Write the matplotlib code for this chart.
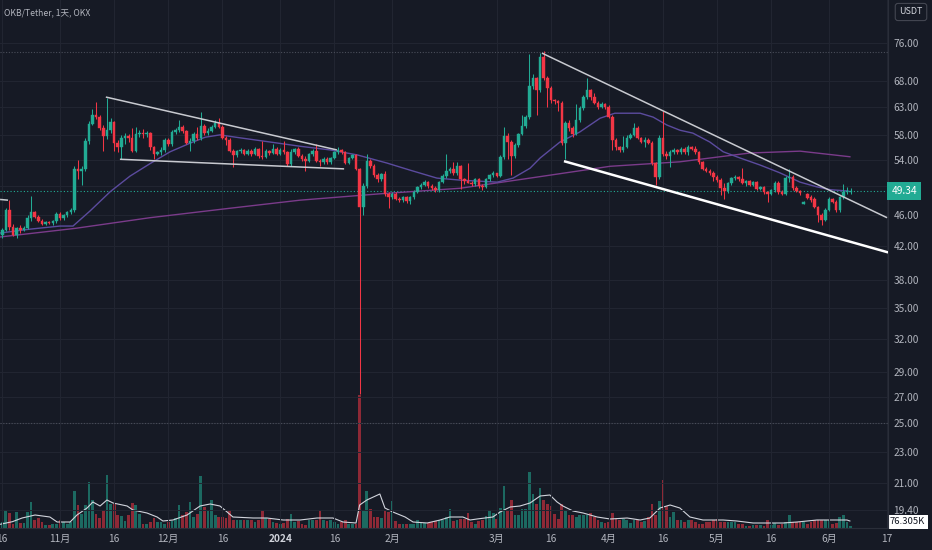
import numpy as np
import pandas as pd
import matplotlib
matplotlib.use('Agg')
import matplotlib.pyplot as plt
import matplotlib.dates as mdates
from matplotlib.ticker import NullLocator, NullFormatter

plt.rcParams['font.family'] = ['Noto Sans CJK SC', 'DejaVu Sans']

# OKB/USDT daily candles (OKX), first day 2023-10-16
start_date = '2023-10-16'

opens = [
    43.4, 44.0, 46.6, 44.4, 43.4, 44.2, 44.0, 44.3, 45.6, 46.3,
    45.7, 45.2, 44.8, 45.0, 44.9, 45.1, 46.1, 45.5, 45.9, 46.4,
    46.6, 52.6, 52.3, 52.6, 57.0, 60.0, 61.5, 61.2, 59.3, 57.9,
    59.0, 60.3, 56.8, 56.0, 57.6, 57.9, 57.5, 55.5, 58.3, 58.5,
    58.2, 58.4, 56.0, 55.0, 55.3, 55.6, 57.2, 56.5, 58.6, 58.9,
    59.4, 58.7, 56.8, 57.0, 58.3, 57.5, 59.6, 58.4, 58.8, 59.4,
    60.2, 59.4, 57.6, 57.2, 55.5, 54.8, 55.4, 55.6, 55.0, 55.5,
    54.9, 55.7, 54.6, 54.5, 55.4, 55.1, 55.8, 55.0, 55.6, 55.2,
    53.3, 55.3, 55.7, 54.6, 54.1, 53.8, 54.9, 55.5, 53.9, 53.6,
    54.2, 53.6, 54.3, 55.2, 55.6, 55.2, 53.5, 54.3, 54.7, 52.6,
    47.0, 50.1, 53.8, 53.0, 51.6, 51.0, 51.8, 48.9, 48.5, 48.9,
    48.2, 48.0, 48.4, 47.9, 48.4, 49.2, 49.9, 50.2, 50.6, 50.0,
    49.8, 49.4, 50.6, 51.5, 52.3, 52.6, 51.9, 53.0, 51.0, 50.7,
    50.5, 50.3, 51.0, 50.1, 49.9, 51.0, 51.6, 51.9, 51.5, 54.4,
    57.9, 56.9, 54.6, 56.4, 58.2, 59.6, 61.2, 67.0, 68.6, 66.2,
    72.9, 68.7, 66.7, 64.4, 64.1, 63.8, 56.8, 60.2, 59.2, 58.2,
    60.6, 62.8, 64.9, 66.3, 64.9, 63.8, 63.0, 63.5, 63.0, 61.3,
    57.3, 56.0, 55.6, 56.0, 57.6, 58.1, 59.3, 57.6, 56.9, 57.3,
    56.8, 53.5, 51.3, 57.6, 55.0, 54.6, 55.3, 55.6, 55.2, 55.8,
    55.3, 56.1, 55.8, 55.2, 53.6, 52.6, 52.3, 51.9, 51.3, 50.9,
    49.8, 49.3, 50.4, 51.2, 51.3, 51.1, 50.5, 50.7, 50.2, 50.6,
    49.6, 49.9, 49.1, 48.9, 49.4, 50.5, 49.1, 48.9, 51.2, 51.4,
    49.7, 49.3, 47.5, 48.9, 48.5, 48.2, 47.0, 45.9, 45.3, 46.7,
    48.1, 47.8, 46.6, 48.4, 49.2, 49.1,
]
highs = [
    44.2, 46.9, 48.0, 44.8, 44.4, 44.6, 44.5, 45.9, 48.6, 46.5,
    46.0, 45.4, 45.1, 45.2, 45.3, 46.3, 46.3, 46.1, 46.5, 46.9,
    53.0, 54.0, 53.0, 57.5, 60.5, 62.7, 64.0, 61.5, 59.8, 64.8,
    61.0, 60.5, 57.2, 58.0, 58.5, 58.3, 59.3, 59.4, 59.0, 59.1,
    58.8, 58.6, 56.2, 55.5, 56.0, 57.5, 57.5, 58.9, 59.3, 60.7,
    59.8, 58.9, 57.6, 58.6, 59.5, 62.2, 59.9, 59.2, 59.8, 60.6,
    61.0, 59.8, 57.9, 57.6, 55.7, 55.6, 55.9, 55.8, 55.8, 55.7,
    56.0, 55.9, 57.0, 55.7, 55.6, 56.6, 56.0, 55.9, 57.0, 55.4,
    55.7, 55.9, 56.0, 54.9, 54.6, 55.1, 55.8, 56.6, 54.2, 54.4,
    54.4, 54.5, 55.4, 56.0, 55.8, 55.4, 54.5, 54.9, 54.9, 52.8,
    50.5, 54.9, 54.2, 53.3, 51.9, 52.0, 52.3, 49.2, 49.2, 49.1,
    48.5, 48.6, 48.6, 48.6, 49.4, 50.1, 50.4, 50.9, 50.8, 50.3,
    50.0, 50.8, 51.8, 54.9, 52.9, 53.7, 53.7, 53.2, 51.2, 53.5,
    50.7, 51.2, 51.2, 50.3, 51.2, 51.8, 52.2, 52.0, 54.7, 59.5,
    58.4, 57.2, 56.8, 58.5, 61.6, 61.6, 73.6, 69.5, 68.9, 73.8,
    74.2, 69.0, 67.1, 64.6, 64.3, 64.2, 60.5, 60.6, 59.6, 63.6,
    63.2, 65.3, 68.6, 66.5, 65.6, 64.2, 63.9, 63.7, 63.4, 61.5,
    57.5, 56.3, 57.9, 58.0, 58.4, 60.2, 59.6, 57.8, 57.7, 57.5,
    57.0, 53.7, 58.0, 62.3, 55.4, 55.6, 55.9, 55.8, 56.0, 56.0,
    56.4, 56.3, 56.2, 55.4, 53.8, 52.9, 52.6, 52.2, 51.6, 51.2,
    50.4, 50.6, 51.4, 51.6, 51.5, 52.8, 50.9, 50.9, 50.8, 50.8,
    50.1, 50.0, 49.3, 49.6, 50.8, 50.7, 49.4, 51.5, 52.6, 51.6,
    50.0, 49.5, 47.9, 49.0, 48.7, 48.4, 47.2, 46.2, 46.9, 48.4,
    48.3, 48.0, 48.6, 50.3, 49.9, 49.8,
]
lows = [
    43.0, 43.8, 44.0, 43.2, 43.0, 43.6, 43.8, 44.1, 45.2, 45.5,
    45.0, 44.6, 44.6, 44.8, 44.7, 44.9, 45.3, 45.3, 45.7, 46.1,
    46.3, 51.0, 50.2, 52.3, 56.5, 59.8, 60.8, 59.0, 55.4, 57.4,
    58.5, 55.5, 55.2, 54.2, 56.6, 56.9, 55.2, 55.2, 57.8, 57.5,
    57.8, 55.6, 54.1, 54.7, 54.8, 55.3, 56.2, 56.3, 58.2, 58.6,
    58.4, 56.5, 55.5, 56.8, 57.3, 57.2, 58.0, 58.1, 58.6, 59.2,
    59.2, 57.4, 56.4, 55.2, 52.9, 54.5, 55.1, 54.7, 54.8, 54.6,
    54.7, 54.3, 54.2, 54.3, 54.7, 54.9, 54.8, 54.8, 55.0, 53.0,
    53.1, 55.0, 54.4, 53.9, 52.3, 53.6, 54.6, 53.7, 53.0, 53.4,
    53.4, 53.4, 54.1, 55.0, 55.0, 53.3, 53.3, 54.1, 52.4, 27.2,
    46.0, 49.8, 52.7, 51.4, 50.6, 50.8, 48.6, 46.9, 48.2, 48.0,
    47.7, 47.8, 47.6, 47.4, 48.2, 49.0, 49.6, 50.0, 49.8, 49.5,
    49.1, 49.2, 50.4, 51.2, 51.9, 51.7, 51.7, 49.6, 50.3, 50.4,
    50.0, 50.1, 49.8, 49.4, 49.7, 50.8, 51.4, 51.3, 51.3, 54.2,
    54.2, 51.7, 54.3, 56.1, 58.0, 59.3, 60.8, 66.5, 61.6, 65.8,
    68.3, 63.0, 63.8, 63.6, 62.3, 56.4, 54.1, 58.8, 57.8, 58.0,
    60.3, 62.5, 64.6, 64.3, 63.5, 62.6, 62.8, 62.6, 61.0, 55.6,
    55.6, 55.2, 55.3, 55.9, 57.4, 57.9, 57.4, 56.7, 56.1, 56.6,
    53.2, 50.2, 51.0, 54.6, 54.2, 52.9, 55.0, 54.9, 55.0, 55.0,
    54.8, 55.6, 55.0, 53.3, 52.4, 52.1, 51.7, 50.8, 50.6, 48.7,
    48.2, 49.0, 50.2, 50.9, 50.8, 50.3, 50.1, 50.0, 50.0, 49.4,
    49.4, 48.9, 47.8, 48.7, 49.2, 48.9, 48.7, 48.7, 50.6, 49.5,
    49.1, 48.8, 47.4, 48.1, 47.8, 46.9, 45.0, 44.6, 45.1, 46.5,
    47.6, 46.4, 46.4, 48.2, 48.9, 48.9,
]
closes = [
    44.0, 46.6, 44.4, 43.4, 44.2, 44.0, 44.3, 45.6, 46.3, 45.7,
    45.2, 44.8, 45.0, 44.9, 45.1, 46.1, 45.5, 45.9, 46.4, 46.6,
    52.6, 52.3, 52.6, 57.0, 60.0, 61.5, 61.2, 59.3, 57.9, 59.0,
    60.3, 56.8, 56.0, 57.6, 57.9, 57.5, 55.5, 58.3, 58.5, 58.2,
    58.4, 56.0, 55.0, 55.3, 55.6, 57.2, 56.5, 58.6, 58.9, 59.4,
    58.7, 56.8, 57.0, 58.3, 57.5, 59.6, 58.4, 58.8, 59.4, 60.2,
    59.4, 57.6, 57.2, 55.5, 54.8, 55.4, 55.6, 55.0, 55.5, 54.9,
    55.7, 54.6, 54.5, 55.4, 55.1, 55.8, 55.0, 55.6, 55.2, 53.3,
    55.3, 55.7, 54.6, 54.1, 53.8, 54.9, 55.5, 53.9, 53.6, 54.2,
    53.6, 54.3, 55.2, 55.6, 55.2, 53.5, 54.3, 54.7, 52.6, 47.0,
    50.1, 53.8, 53.0, 51.6, 51.0, 51.8, 48.9, 48.5, 48.9, 48.2,
    48.0, 48.4, 47.9, 48.4, 49.2, 49.9, 50.2, 50.6, 50.0, 49.8,
    49.4, 50.6, 51.5, 52.3, 52.6, 51.9, 53.0, 51.0, 50.7, 50.5,
    50.3, 51.0, 50.1, 49.9, 51.0, 51.6, 51.9, 51.5, 54.4, 57.9,
    56.9, 54.6, 56.4, 58.2, 59.6, 61.2, 67.0, 68.6, 66.2, 72.9,
    68.7, 66.7, 64.4, 64.1, 63.8, 56.8, 60.2, 59.2, 58.2, 60.6,
    62.8, 64.9, 66.3, 64.9, 63.8, 63.0, 63.5, 63.0, 61.3, 57.3,
    56.0, 55.6, 56.0, 57.6, 58.1, 59.3, 57.6, 56.9, 57.3, 56.8,
    53.5, 51.3, 57.6, 55.0, 54.6, 55.3, 55.6, 55.2, 55.8, 55.3,
    56.1, 55.8, 55.2, 53.6, 52.6, 52.3, 51.9, 51.3, 50.9, 49.8,
    49.3, 50.4, 51.2, 51.3, 51.1, 50.5, 50.7, 50.2, 50.6, 49.6,
    49.9, 49.1, 48.9, 49.4, 50.5, 49.1, 48.9, 51.2, 51.4, 49.7,
    49.3, 49.0, 47.8, 48.3, 48.0, 47.0, 45.9, 45.3, 46.7, 48.1,
    47.8, 46.6, 48.4, 49.2, 49.3, 49.34,
]
# volume in thousands of OKB
volumes_k = [
    240, 720, 600, 160, 640, 200, 200, 640, 1040, 320,
    400, 240, 120, 120, 160, 160, 320, 240, 160, 240,
    1480, 920, 560, 920, 1840, 1120, 560, 400, 720, 2120,
    960, 960, 520, 480, 280, 520, 1000, 920, 560, 160,
    160, 240, 400, 240, 240, 160, 240, 280, 400, 920,
    520, 640, 1040, 440, 560, 2080, 840, 680, 1120, 520,
    440, 440, 400, 720, 320, 320, 320, 320, 320, 320,
    240, 320, 720, 400, 360, 240, 200, 160, 200, 360,
    560, 240, 280, 160, 120, 320, 320, 320, 720, 320,
    280, 320, 240, 160, 240, 320, 160, 160, 160, 5320,
    720, 1480, 760, 440, 440, 400, 680, 640, 1080, 280,
    160, 160, 160, 160, 160, 320, 240, 200, 200, 240,
    280, 320, 320, 440, 760, 280, 320, 360, 360, 600,
    240, 160, 280, 320, 480, 720, 600, 360, 800, 1680,
    720, 1120, 520, 520, 760, 760, 2240, 1360, 960, 1600,
    1120, 960, 880, 560, 360, 960, 720, 520, 520, 440,
    520, 520, 520, 600, 440, 320, 240, 200, 240, 600,
    360, 320, 360, 320, 200, 320, 320, 240, 280, 440,
    960, 520, 1080, 1920, 880, 440, 640, 320, 320, 240,
    320, 320, 240, 160, 160, 240, 240, 320, 360, 240,
    240, 240, 240, 240, 160, 160, 80, 80, 120, 120,
    120, 80, 320, 120, 200, 120, 160, 240, 520, 240,
    240, 240, 240, 160, 240, 320, 320, 320, 320, 320,
    160, 200, 440, 520, 240, 76.305,
]

# moving averages shown on the chart (day number from start, value)
ma_fast_day = [-0.6, 7.7, 16, 19.6, 24.3, 29.9, 35.4, 40.9, 46.5, 52, 56.2, 60.3,
               65.9, 74.2, 82.5, 90.8, 98.3, 106.6, 113, 120.4, 126.8, 137.1, 141.5,
               146.2, 149, 154.5, 160, 165.6, 169.7, 176.7, 180.3, 184.1, 187.7,
               191.3, 196, 199.7, 204.4, 209.9, 215.4, 221, 225.7, 229.3, 234.3]
ma_fast_val = [43.6, 44.1, 44.5, 44.5, 46.5, 49.2, 51.5, 53.4, 55.3, 56.7, 57.7, 58.1,
               57.6, 56.9, 56.2, 55.6, 54.8, 53.5, 52.4, 51.2, 50.9, 50.6, 51.2,
               52.7, 54.3, 56.9, 58.6, 61.0, 61.9, 61.9, 61.2, 59.8, 58.9,
               58.4, 56.9, 55.3, 54.3, 53.2, 52.0, 50.6, 49.9, 49.5, 49.3]
ma_slow_day = [-0.6, 20.2, 40.9, 61.7, 82.5, 104.6, 126.8, 146.2, 168.4, 187.7, 207.1, 221, 234.8]
ma_slow_val = [43.1, 44.2, 45.6, 46.8, 48.0, 48.9, 49.7, 51.2, 53.0, 53.7, 55.1, 55.4, 54.5]

vol_ma_day = [-0.6, 2.8, 5.5, 9.1, 13.2, 15.2, 18.8, 20.7, 23.5, 25.1, 27.1, 29.0, 30.7,
              34.6, 36.2, 40.1, 42.9, 44.5, 47.3, 51.2, 54.8, 57.6, 60.3, 62.3, 63.9,
              69.5, 73.3, 77.8, 82.5, 87.2, 91.6, 94.4, 98.0, 99.0, 101.0, 104.6, 106.0,
              108.2, 111.6, 113.8, 117.7, 121.3, 124.0, 127.6, 129.6, 131.5, 135.9,
              137.9, 140.7, 143.4, 146.2, 149.0, 151.7, 153.7, 155.3, 158.1, 160.9,
              164.8, 168.4, 173.1, 176.7, 179.4, 182.2, 185.0, 187.7, 190.5, 194.1,
              199.7, 203.5, 208.0, 212.7, 216.3, 220.2, 225.7, 234.0, 234.8]
vol_ma_val = [148, 252, 400, 520, 440, 240, 240, 520, 800, 1040, 880, 1120, 1000,
              880, 720, 600, 440, 280, 320, 520, 880, 960, 880, 640, 440,
              400, 400, 320, 320, 400, 400, 240, 200, 920, 1120, 1360, 800,
              640, 440, 240, 200, 320, 440, 440, 320, 360, 440,
              640, 840, 880, 1000, 1280, 1320, 1040, 880, 680, 600,
              440, 360, 400, 320, 400, 800, 920, 800, 440, 320,
              320, 280, 200, 200, 200, 240, 320, 320, 280]

# hand-drawn trendlines: (day number, price)
flag_upper = [(28.7, 64.9), (92.7, 55.6)]
flag_lower = [(32.6, 54.1), (94.7, 52.6)]
wedge_upper = [(149.5, 73.8), (245.1, 45.6)]
wedge_lower = [(155.6, 53.8), (245.4, 41.2)]
old_line = [(-0.6, 48.1), (1.6, 48.0)]

last_price = 49.34
last_volume = '76.305K'
price_levels = [76, 68, 63, 58, 54, 50, 46, 42, 38, 35, 32, 29, 27, 25, 23, 21, 19.4]
dotted_levels = [74.0, 25.0]
tick_dates = ['2023-10-16', '2023-11-01', '2023-11-16', '2023-12-01', '2023-12-16',
              '2024-01-01', '2024-01-16', '2024-02-01', '2024-03-01', '2024-03-16',
              '2024-04-01', '2024-04-16', '2024-05-01', '2024-05-16', '2024-06-01',
              '2024-06-17']
tick_labels = ['16', '11月', '16', '12月', '16', '2024', '16', '2月', '3月', '16',
               '4月', '16', '5月', '16', '6月', '17']

# colours
BG = '#161a25'
GRID = '#222632'
TXT = '#b2b5be'
UP = '#22ab94'
DOWN = '#f23645'

o = np.array(opens); h = np.array(highs); l = np.array(lows); c = np.array(closes)
v = np.array(volumes_k)
t = mdates.date2num(pd.date_range(start_date, periods=len(c)).to_pydatetime())
t0 = t[0]
up = c >= o
cols = np.where(up, UP, DOWN)

fig = plt.figure(figsize=(9.32, 5.5), dpi=100, facecolor=BG)
rect = [0, 22 / 550, 888 / 932, 528 / 550]
axv = fig.add_axes(rect)
ax = fig.add_axes(rect)
ax.patch.set_visible(False)
axv.set_facecolor(BG)

# volume pane (under the candles)
vcols = [(0.13, 0.67, 0.58, 0.55) if u else (0.95, 0.21, 0.27, 0.55) for u in up]
axv.bar(t, v, width=0.75, color=vcols, linewidth=0)
axv.plot(t0 + np.array(vol_ma_day), vol_ma_val, color='#d1d4dc', lw=0.8)
axv.set_ylim(0, 21120)
axv.set_xticks([]); axv.set_yticks([])
for s in axv.spines.values():
    s.set_visible(False)
axv.annotate(last_volume, xy=(1, 0.0114), xycoords='axes fraction', xytext=(1.5, 0),
             textcoords='offset points', ha='left', va='center', fontsize=6.8,
             color='#131722', bbox=dict(boxstyle='square,pad=0.3', fc='white', ec='none'),
             annotation_clip=False)

# price pane
ax.set_yscale('log')
t_ticks = mdates.date2num(pd.to_datetime(tick_dates).to_pydatetime())
for lv in price_levels:
    ax.axhline(lv, color=GRID, lw=0.7, zorder=0)
for tt in t_ticks:
    ax.axvline(tt, color=GRID, lw=0.7, zorder=0)
for lv in dotted_levels:
    ax.axhline(lv, color='#4a4e5a', lw=0.8, ls=(0, (1, 1.5)), zorder=1)
ax.axhline(last_price, color=UP, lw=0.8, ls=(0, (1, 2)), zorder=1)

ax.plot(t0 + np.array(ma_slow_day), ma_slow_val, color='#7a3b8a', lw=1.0, zorder=2)
ax.plot(t0 + np.array(ma_fast_day), ma_fast_val, color='#5b4b9e', lw=1.0, zorder=2)

ax.vlines(t, l, h, colors=cols, lw=0.75, zorder=3)
body_lo = np.minimum(o, c)
body_hi = np.maximum(o, c)
ax.bar(t, body_hi - body_lo, bottom=body_lo, width=0.7, color=cols, edgecolor=cols,
       lw=0.3, zorder=4)

for line, colr, lw in [(flag_upper, '#c8cad0', 1.1), (flag_lower, '#c8cad0', 1.1),
                       (wedge_upper, '#c8cad0', 1.1), (wedge_lower, '#ffffff', 1.8),
                       (old_line, '#c8cad0', 1.1)]:
    d, p = zip(*line)
    ax.plot(t0 + np.array(d), p, color=colr, lw=lw, zorder=5, solid_capstyle='butt')

ax.set_ylim(18.4, 86.2)
for a in (ax, axv):
    a.set_xlim(t0 - 0.62, t0 + 245.36)

ax.yaxis.tick_right()
ax.set_yticks(price_levels)
ax.set_yticklabels([f'{p:.2f}' for p in price_levels])
ax.yaxis.set_minor_locator(NullLocator())
ax.yaxis.set_minor_formatter(NullFormatter())
ax.tick_params(axis='y', length=0, pad=4, labelsize=7.3, labelcolor=TXT)
ax.set_xticks(t_ticks)
ax.set_xticklabels(tick_labels)
ax.tick_params(axis='x', length=0, pad=4, labelsize=7.3, labelcolor=TXT)
for lab in ax.get_xticklabels():
    if lab.get_text() == '2024':
        lab.set_fontweight('bold')
        lab.set_color('#d1d4dc')
for side in ('top', 'left'):
    ax.spines[side].set_visible(False)
for side in ('right', 'bottom'):
    ax.spines[side].set_color('#2a2e39')

ax.annotate(f'{last_price:.2f}', xy=(1, last_price), xycoords=('axes fraction', 'data'),
            xytext=(2.5, 0), textcoords='offset points', ha='left', va='center',
            fontsize=7.3, color='white', zorder=10, annotation_clip=False,
            bbox=dict(boxstyle='square,pad=0.4', fc=UP, ec='none'))

fig.text(4 / 932, 1 - 13 / 550, 'OKB/Tether, 1天, OKX', fontsize=6.2, color=TXT, va='center')
fig.text(911 / 932, 1 - 12 / 550, 'USDT', ha='center', va='center', fontsize=6.5,
         color='#d1d4dc',
         bbox=dict(boxstyle='round,pad=0.45,rounding_size=0.3', fc=BG, ec='#434651', lw=0.8))

fig.savefig('out.png', dpi=100, facecolor=BG)
